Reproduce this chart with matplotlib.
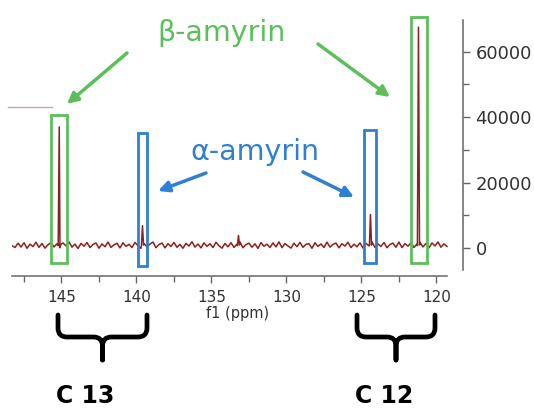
import numpy as np
import matplotlib
matplotlib.use("Agg")
import matplotlib.pyplot as plt
from matplotlib.patches import Rectangle, PathPatch
from matplotlib.path import Path
from matplotlib.lines import Line2D

# spectrum data (13C NMR, 119-148 ppm)
ppm_start = 148.3
ppm_step = 0.2
baseline = [
    700, 150, 1450, 280, 1600, -100, 1150, 420, 1750, 200,
    1380, -50, 980, 1620, 310, 1290, 60, 1530, 640, 1850,
    250, 1180, -150, 1400, 520, 1650, 120, 1060, 1520, -80,
    1240, 380, 1790, 190, 960, 1430, 20, 1600, 480, 1120,
    140, 1700, 660, -120, 1350, 330, 1190, 1820, 100, 1040,
    1500, 40, 1310, 450, 1680, 210, 1100, -90, 1420, 590,
    1900, 260, 1200, 30, 1560, 480, 1290, 120, 1740, 660,
    -60, 1380, 350, 1610, 180, 1150, 1830, 60, 1050, 1470,
    230, 1260, -140, 1640, 520, 1170, 150, 1540, 330, 1860,
    90, 1330, 610, -30, 1450, 380, 1690, 200, 1120, 1310,
    -110, 1590, 490, 1210, 140, 1780, 270, 1060, 1510, 40,
    1280, 580, 1730, 110, 1150, 360, 1560, -20, 1410, 640,
    1880, 170, 1230, 450, 1660, 70, 1080, 1470, 220, 1810,
    100, 1320, 560, 1600, 160, 1190, 1720, 310, 1390, 30,
    1540, 620, 1830, 230, 1250, 470,
]
peak_ppm = [145.15, 139.6, 133.2, 124.4, 121.2]
peak_int = [37000, 6800, 3800, 10200, 67500]

x_ticks = [145, 140, 135, 130, 125, 120]
y_ticks = [0, 20000, 40000, 60000]

green = "#5cbf5c"
blue = "#2f7fd2"
red = "#8e1f1f"

# merge baseline with peak spikes
ppm = ppm_start - ppm_step * np.arange(len(baseline))
inten = np.array(baseline, dtype=float)
px = np.array(peak_ppm)
spike_x = np.concatenate([px, px - 0.07, px + 0.07])
spike_y = np.concatenate([peak_int, np.full(len(px), 900.0), np.full(len(px), 700.0)])
all_x = np.concatenate([ppm, spike_x])
all_y = np.concatenate([inten, spike_y])
order = np.argsort(-all_x)
all_x, all_y = all_x[order], all_y[order]

W, H = 534, 409
fig = plt.figure(figsize=(W / 100, H / 100), dpi=100)
ax = fig.add_axes([12 / W, 1 - 276 / H, (463 - 12) / W, (276 - 17) / H])

ax.plot(all_x, all_y, color=red, lw=1.1)
ax.set_xlim(148.3, 118.23)
ax.set_ylim(-8570, 70600)

# boxes around peaks
boxes = [
    (145.67, 144.6, -4580, 40600, green),
    (139.93, 139.27, -5500, 35100, blue),
    (124.8, 124.0, -4580, 36000, blue),
    (121.67, 120.6, -4580, 70500, green),
]
for x0, x1, y0, y1, c in boxes:
    ax.add_patch(Rectangle((x1, y0), x0 - x1, y1 - y0, fill=False,
                           edgecolor=c, lw=2.0, clip_on=False, zorder=3))

# axes styling
for s in ["top", "left"]:
    ax.spines[s].set_visible(False)
ax.spines["bottom"].set_bounds(148.3, 119.3)
ax.spines["right"].set_bounds(-6700, 69800)
for s in ["bottom", "right"]:
    ax.spines[s].set_color("#666666")
    ax.spines[s].set_linewidth(1.1)
ax.yaxis.tick_right()
ax.set_xticks(x_ticks)
ax.set_xticks([147.5, 142.5, 137.5, 132.5, 127.5, 122.5], minor=True)
ax.set_yticks(y_ticks)
ax.set_yticks([10000, 30000, 50000], minor=True)
ax.tick_params(axis="x", which="major", length=5, width=1, color="#666666",
               labelsize=11, labelcolor="#333333", pad=5)
ax.tick_params(axis="x", which="minor", length=4, width=1, color="#666666")
ax.tick_params(axis="y", which="major", length=5, width=1, color="#666666",
               labelsize=13, labelcolor="#333333", pad=4)
ax.tick_params(axis="y", which="minor", length=4, width=1, color="#666666")
ax.set_xlabel("f1 (ppm)", fontsize=10.5, color="#333333", labelpad=1)

# annotation labels and arrows (figure pixels, origin bottom-left)
def fp(x, y):
    return (x, H - y)

fig.text(222 / W, 1 - 33 / H, "β-amyrin", color=green, fontsize=20.5,
         ha="center", va="center")
fig.text(255 / W, 1 - 152 / H, "α-amyrin", color=blue, fontsize=20.5,
         ha="center", va="center")

arrows = [
    ((127, 53), (67, 104), green),
    ((318, 44), (390, 97), green),
    ((206, 173), (158, 191), blue),
    ((303, 172), (354, 197), blue),
]
for start, end, c in arrows:
    ax.annotate("", xy=fp(*end), xytext=fp(*start),
                xycoords="figure pixels", textcoords="figure pixels",
                arrowprops=dict(arrowstyle="-|>", color=c, lw=2.5,
                                mutation_scale=16, shrinkA=0, shrinkB=0))

# faint stray line at top-left
fig.add_artist(Line2D([8 / W, 52 / W], [1 - 107 / H, 1 - 107 / H],
                      color="#c8a8a8", lw=1.0))

# curly braces under the axis
def brace(x0, x1, ytop, ybar, ytip, r=9):
    xm = (x0 + x1) / 2
    pts = [
        (x0, ytop), (x0, ybar - r), (x0, ybar), (x0 + r, ybar),
        (xm - r, ybar), (xm, ybar), (xm, ybar + r), (xm, ytip),
        (xm, ybar + r), (xm, ybar), (xm + r, ybar),
        (x1 - r, ybar), (x1, ybar), (x1, ybar - r), (x1, ytop),
    ]
    codes = [Path.MOVETO, Path.LINETO, Path.CURVE3, Path.CURVE3,
             Path.LINETO, Path.CURVE3, Path.CURVE3, Path.LINETO,
             Path.LINETO, Path.CURVE3, Path.CURVE3,
             Path.LINETO, Path.CURVE3, Path.CURVE3, Path.LINETO]
    verts = [(x / W, 1 - y / H) for x, y in pts]
    patch = PathPatch(Path(verts, codes), fill=False, lw=3.4, color="black",
                      transform=fig.transFigure, capstyle="round",
                      joinstyle="round")
    fig.add_artist(patch)

brace(58, 147, 315, 337, 360)
brace(357, 435, 315, 337, 360)

fig.text(85 / W, 1 - 384 / H, "C 13", fontsize=17, fontweight="bold",
         ha="center", va="top", color="black")
fig.text(384 / W, 1 - 384 / H, "C 12", fontsize=17, fontweight="bold",
         ha="center", va="top", color="black")

fig.savefig("out.png", dpi=100)
